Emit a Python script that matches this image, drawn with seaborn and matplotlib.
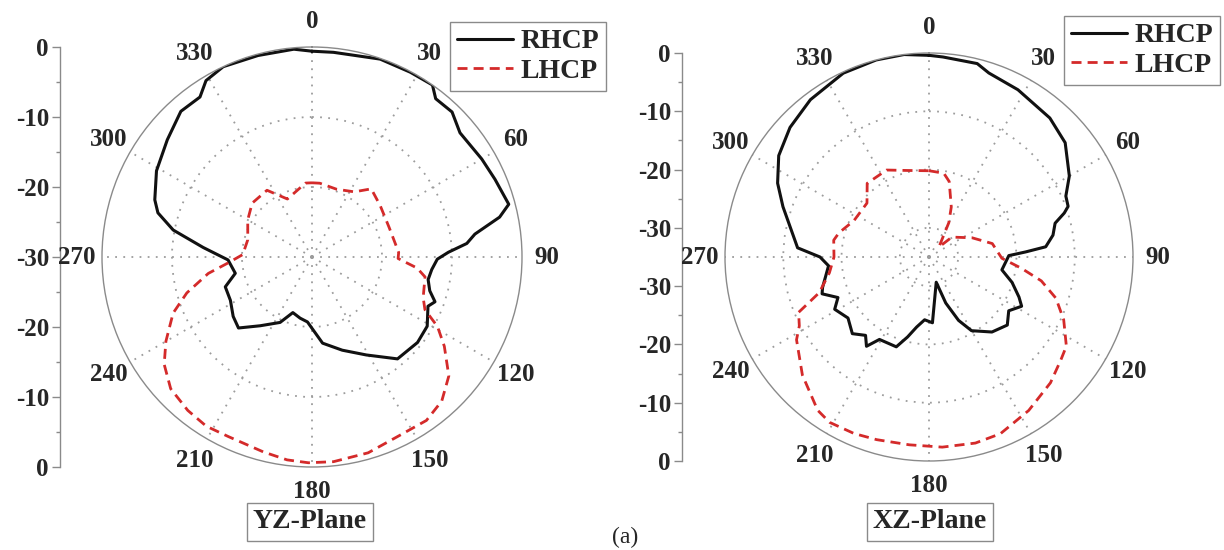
import numpy as np
import pandas as pd
import matplotlib
matplotlib.use("Agg")
import matplotlib.pyplot as plt
from matplotlib.lines import Line2D
import seaborn as sns

sns.set_theme(style="white")
plt.rcParams["font.family"] = ["Liberation Serif", "DejaVu Serif"]

# ---- radiation patterns (angle in degrees, gain in dB) ----
yz_rhcp_ang = [0, 6, 19, 28, 35, 38, 44, 50, 60, 67, 75, 78, 82, 85, 88, 91, 96, 101,
               106, 110, 113, 121, 129, 140, 151, 162, 173, 184, 191, 199, 206, 217,
               226, 233, 242, 251, 258, 268, 275, 281, 286, 290, 299, 309, 318, 325,
               329, 335, 345, 355]
yz_rhcp_db = [-0.6, -0.6, -0.1, -0.1, 0.0, -1.3, -1.2, -2.4, -2.0, -1.6, -0.9, -2.6,
              -6.5, -7.8, -10.5, -12.1, -12.8, -13.1, -12.5, -11.3, -12.0, -10.8, -10.6,
              -11.0, -14.0, -16.0, -17.6, -20.7, -21.1, -21.6, -19.6, -17.7, -15.4,
              -15.9, -16.8, -16.9, -18.8, -18.0, -14.4, -9.8, -7.1, -6.1, -4.6, -3.4,
              -2.0, -2.1, -0.6, 0.0, -0.2, -0.2]

yz_lhcp_ang = [0, 6, 20, 33, 41, 53, 69, 87, 91, 96, 100, 110, 115, 119, 124, 131, 138,
               145, 154, 164, 174, 181, 187, 194, 205, 212, 219, 227, 234, 240, 248,
               254, 261, 266, 272, 285, 300, 312, 326, 337, 355]
yz_lhcp_db = [-19.4, -19.4, -19.7, -18.9, -17.1, -17.8, -18.2, -17.6, -17.7, -14.9,
              -13.6, -13.1, -12.2, -9.5, -7.2, -4.1, -2.3, -1.5, -1.6, -0.9, -0.6, -0.6,
              -0.8, -1.3, -1.7, -1.5, -1.8, -2.4, -3.9, -5.9, -8.6, -11.4, -15.0, -18.0,
              -20.1, -20.5, -19.4, -18.5, -18.5, -21.0, -19.4]

xz_rhcp_ang = [0, 4, 14, 18, 28, 41, 50, 60, 66, 70, 72, 75, 80, 85, 87, 89, 100, 107,
               114, 118, 124, 131, 140, 150, 155, 160, 164, 177, 184, 190, 195, 200,
               211, 215, 219, 225, 233, 241, 246, 251, 254, 265, 270, 274, 289, 296,
               304, 313, 323, 335, 345, 353]
xz_rhcp_db = [-0.4, -0.6, -0.8, -1.8, -2.5, -3.4, -4.5, -7.2, -9.3, -9.6, -10.6, -12.6,
              -13.4, -14.9, -18.4, -21.3, -22.3, -20.1, -18.1, -17.0, -18.5, -17.2,
              -18.2, -20.4, -23.0, -26.6, -30.5, -23.7, -24.2, -22.8, -20.8, -18.6,
              -18.5, -16.3, -17.7, -16.4, -17.6, -16.5, -17.9, -15.6, -16.0, -17.7,
              -16.3, -12.4, -8.5, -6.1, -3.9, -2.4, -1.2, -0.2, 0.0, 0.0]

xz_lhcp_ang = [0, 10, 15, 24, 30, 45, 49, 66, 78, 91, 97, 102, 108, 115, 123, 128, 136,
               147, 158, 166, 176, 186, 196, 203, 211, 216, 227, 238, 242, 247, 252,
               261, 270, 280, 285, 296, 311, 320, 334, 346]
xz_lhcp_db = [-20.2, -20.4, -21.6, -25.6, -28.2, -32.6, -29.8, -26.9, -23.9, -22.5,
              -19.0, -15.3, -12.1, -9.5, -6.9, -6.3, -5.0, -3.6, -2.3, -2.1, -2.3, -2.6,
              -2.4, -2.1, -1.9, -2.5, -5.3, -8.2, -9.8, -10.7, -15.2, -17.7, -18.7,
              -18.4, -19.0, -20.7, -20.9, -18.5, -18.4, -19.7]

theta_labels = ["0", "30", "60", "90", "120", "150", "180", "210", "240", "270", "300", "330"]
yz_axis_labels = ["0", "-10", "-20", "-30", "-20", "-10", "0"]
xz_axis_labels = ["0", "-10", "-20", "-30", "-30", "-20", "-10", "0"]
series_names = ["RHCP", "LHCP"]
plane_names = ["YZ-Plane", "XZ-Plane"]

RHCP_COLOR = "#111111"
LHCP_COLOR = "#d42a2a"
GRID_COLOR = "#9c9c9c"
EDGE_COLOR = "#8a8a8a"
FS = 18

W, H = 1224, 550
fig = plt.figure(figsize=(W / 100, H / 100), dpi=100)


def px_rect(cx, cy, r):
    return [(cx - r) / W, (H - cy - r) / H, 2 * r / W, 2 * r / H]


def closed_frame(ang, db):
    ang = np.asarray(ang, float)
    db = np.asarray(db, float)
    return pd.DataFrame({"theta": np.deg2rad(np.r_[ang, ang[0] + 360]),
                         "gain": np.r_[db, db[0]]})


def polar_panel(cx, cy, r, rmin, rings, rh_ang, rh_db, lh_ang, lh_db, pad):
    ax = fig.add_axes(px_rect(cx, cy, r), projection="polar")
    ax.set_theta_zero_location("N")
    ax.set_theta_direction(-1)
    ax.set_ylim(rmin, 0)
    ax.set_yticks(rings)
    ax.set_yticklabels([])
    ax.set_xticks(np.deg2rad(np.arange(0, 360, 30)))
    ax.set_xticklabels(theta_labels, fontsize=FS, fontweight="bold")
    ax.set_xticks(np.deg2rad(np.arange(15, 360, 30)), minor=True)
    ax.grid(True, which="major", color=GRID_COLOR, linestyle=(0, (1, 3.5)), linewidth=1.3)
    ax.tick_params(axis="x", which="major", direction="in", length=8, width=1,
                   color=EDGE_COLOR, pad=pad)
    ax.tick_params(axis="x", which="minor", direction="in", length=4, width=1,
                   color=EDGE_COLOR)
    ax.spines["polar"].set_color(EDGE_COLOR)
    ax.spines["polar"].set_linewidth(1.0)
    ax.set_facecolor("white")

    sns.lineplot(data=closed_frame(rh_ang, rh_db), x="theta", y="gain", ax=ax,
                 sort=False, estimator=None, color=RHCP_COLOR, linewidth=2.2)
    sns.lineplot(data=closed_frame(lh_ang, lh_db), x="theta", y="gain", ax=ax,
                 sort=False, estimator=None, color=LHCP_COLOR, linewidth=2.0,
                 linestyle=(0, (3.6, 2.2)))
    ax.set_xlabel("")
    ax.set_ylabel("")
    return ax


def gain_axis(x, top, bottom, lim, labels):
    ax = fig.add_axes([x / W, (H - bottom) / H, 0.0005, (bottom - top) / H])
    ax.set_ylim(-lim, lim)
    ticks = np.linspace(-lim, lim, len(labels))
    ax.set_yticks(ticks)
    ax.set_yticklabels(labels[::-1], fontsize=FS, fontweight="bold")
    mids = (ticks[:-1] + ticks[1:]) / 2
    if len(labels) % 2 == 0:
        mids = mids[np.abs(mids) > 1e-9]
    ax.set_yticks(mids, minor=True)
    ax.set_xticks([])
    for side in ("top", "right", "bottom"):
        ax.spines[side].set_visible(False)
    ax.spines["left"].set_color(EDGE_COLOR)
    ax.spines["left"].set_linewidth(1.0)
    ax.tick_params(axis="y", which="major", left=True, direction="out", length=6,
                   width=1, color=EDGE_COLOR, pad=2)
    ax.tick_params(axis="y", which="minor", left=True, direction="out", length=3,
                   width=1, color=EDGE_COLOR)
    ax.patch.set_alpha(0)
    return ax


gain_axis(60, 47, 467, 30, yz_axis_labels)
gain_axis(682, 53, 461, 35, xz_axis_labels)

polar_panel(312, 257, 210, -30, [-20, -10], yz_rhcp_ang, yz_rhcp_db,
            yz_lhcp_ang, yz_lhcp_db, pad=11)
polar_panel(929, 257, 204, -35, [-30, -20, -10], xz_rhcp_ang, xz_rhcp_db,
            xz_lhcp_ang, xz_lhcp_db, pad=11)

handles = [Line2D([], [], color=RHCP_COLOR, linewidth=2.2),
           Line2D([], [], color=LHCP_COLOR, linewidth=2.0, linestyle=(0, (3.6, 2.2)))]
for x0, y0 in [(450, 22), (1064, 16)]:
    fig.legend(handles, series_names, loc="upper left",
               bbox_to_anchor=(x0 / W, 1 - y0 / H), frameon=True, fancybox=False,
               edgecolor=EDGE_COLOR, framealpha=1, borderpad=0.25, borderaxespad=0,
               handlelength=2.0, handletextpad=0.3, labelspacing=0.15,
               prop={"size": 20, "weight": "bold"})

for cx, name in [(310, plane_names[0]), (930, plane_names[1])]:
    fig.text(cx / W, 1 - 522 / H, name, ha="center", va="center", fontsize=20,
             fontweight="bold",
             bbox=dict(boxstyle="square,pad=0.22", fc="white", ec=EDGE_COLOR, lw=1))

fig.text(625 / W, 1 - 537 / H, "(a)", ha="center", va="center", fontsize=17)

fig.savefig("out.png", dpi=100, facecolor="white")
